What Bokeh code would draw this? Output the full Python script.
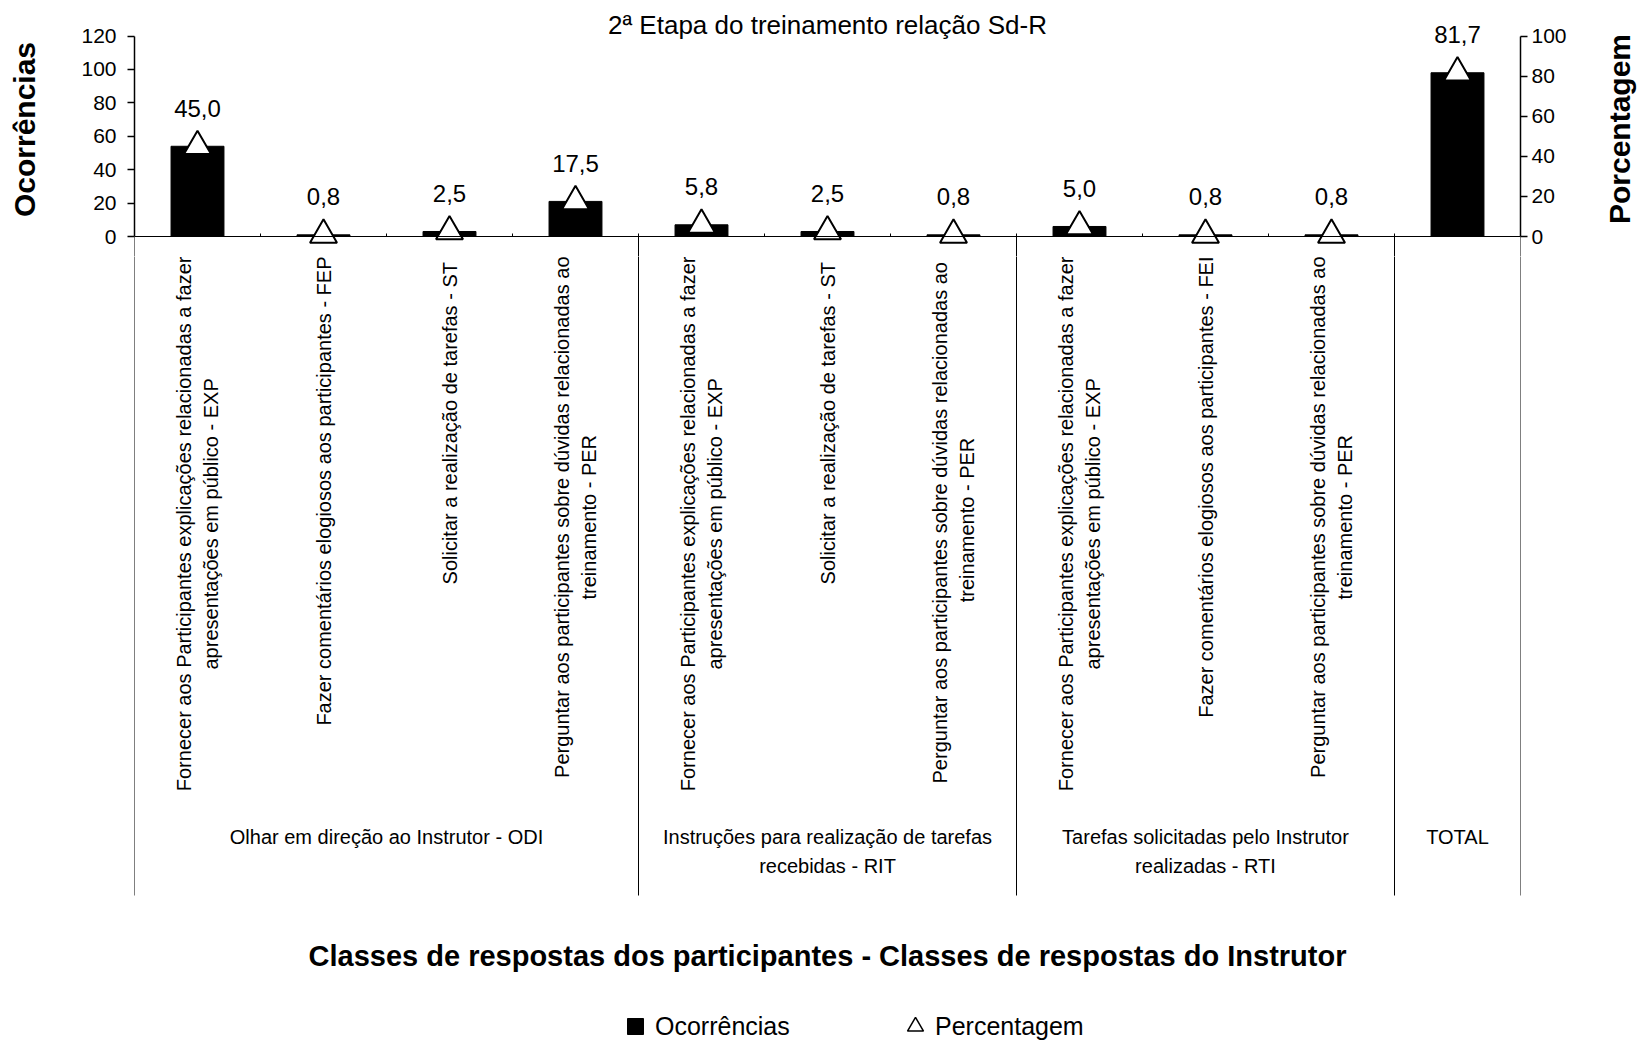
import math
from bokeh.plotting import figure
from bokeh.layouts import column, row
from bokeh.models import (ColumnDataSource, LinearAxis, Range1d, FixedTicker,
                          Legend, LegendItem, Span)
from bokeh.core.properties import value
from bokeh.embed import file_html
from bokeh.resources import INLINE

# ---------------- data ----------------
title_text = "2ª Etapa do treinamento relação Sd-R"
x_title = "Classes de respostas dos participantes - Classes de respostas do Instrutor"
left_title = "Ocorrências"
right_title = "Porcentagem"
legend_bar = "Ocorrências"
legend_pct = "Percentagem"

categories = [
    "Fornecer aos Participantes explicações relacionadas a fazer\napresentações em público - EXP",
    "Fazer comentários elogiosos aos participantes - FEP",
    "Solicitar a realização de  tarefas - ST",
    "Perguntar aos participantes sobre dúvidas relacionadas ao\ntreinamento - PER",
    "Fornecer aos Participantes explicações relacionadas a fazer\napresentações em público - EXP",
    "Solicitar a realização de  tarefas - ST",
    "Perguntar aos participantes sobre dúvidas  relacionadas ao\ntreinamento - PER",
    "Fornecer aos Participantes explicações relacionadas a fazer\napresentações em público - EXP",
    "Fazer comentários elogiosos aos participantes - FEI",
    "Perguntar aos participantes sobre dúvidas relacionadas ao\ntreinamento - PER",
    "",
]
groups = [
    "Olhar em direção ao Instrutor - ODI",
    "Instruções para realização de tarefas\nrecebidas - RIT",
    "Tarefas solicitadas pelo Instrutor\nrealizadas - RTI",
    "TOTAL",
]
group_sizes = [4, 3, 3, 1]
ocorrencias = [54, 1, 3, 21, 7, 3, 1, 6, 1, 1, 98]
percentagem = [45.0, 0.8, 2.5, 17.5, 5.8, 2.5, 0.8, 5.0, 0.8, 0.8, 81.7]
occ_ticks = [0, 20, 40, 60, 80, 100, 120]
pct_ticks = [0, 20, 40, 60, 80, 100]

# ---------------- geometry (page pixels) ----------------
W, H = 1638, 1048
RW = 40                     # width of the strip holding the right-hand title
WL = W - RW
FL, FR = 134, 1520          # frame left / right
SPLIT = 256                 # boundary between the two stacked panels
ZERO = 236.0                # page y of value 0
TOP = 35.5                  # page y of value 120
OCC_MAX, PCT_MAX = 120, 100
PPU = (ZERO - TOP) / OCC_MAX
ratio = OCC_MAX / PCT_MAX
FONT = "Liberation Sans"

n = len(categories)
xc = [i + 0.5 for i in range(n)]
bounds = [0]
for s in group_sizes:
    bounds.append(bounds[-1] + s)


def ypx(py):
    """page y -> data y on the occurrences scale"""
    return (ZERO - py) / PPU


x_range = Range1d(0, n)

# ================= top panel: bars, triangles, axes =================
top = figure(width=WL, height=SPLIT, title=None, x_range=x_range,
             y_range=Range1d(ypx(SPLIT), ypx(2)),
             x_axis_location=None, y_axis_location=None,
             min_border_left=FL, min_border_right=WL - FR,
             min_border_top=2, min_border_bottom=0,
             toolbar_location=None, output_backend="svg")
top.extra_y_ranges = {"pct": Range1d(ypx(SPLIT) / ratio, ypx(2) / ratio)}

la = LinearAxis(bounds=(0, OCC_MAX), ticker=FixedTicker(ticks=occ_ticks),
                axis_label=left_title)
ra = LinearAxis(y_range_name="pct", bounds=(0, PCT_MAX),
                ticker=FixedTicker(ticks=pct_ticks))
for ax in (la, ra):
    ax.axis_line_color = "black"
    ax.axis_line_width = 1.5
    ax.major_tick_line_color = "black"
    ax.major_tick_line_width = 1.5
    ax.major_tick_out = 7
    ax.major_tick_in = 0
    ax.minor_tick_line_color = None
    ax.major_label_text_font = FONT
    ax.major_label_text_font_size = "21px"
    ax.major_label_text_color = "black"
la.axis_label_text_font = FONT
la.axis_label_text_font_style = "bold"
la.axis_label_text_font_size = "30px"
la.axis_label_text_color = "black"
la.major_label_standoff = 11
la.axis_label_standoff = 37
ra.major_label_standoff = 4
top.add_layout(la, "left")
top.add_layout(ra, "right")

# category axis line and small category ticks
top.add_layout(Span(location=0, dimension="width", line_color="black", line_width=1))
inner = list(range(1, n))
top.segment(x0=inner, y0=[0] * len(inner), x1=inner, y1=[3 / PPU] * len(inner),
            line_color="black", line_width=1)
# upper part of group separators
top.segment(x0=bounds, y0=[0] * len(bounds), x1=bounds,
            y1=[ypx(SPLIT + 2)] * len(bounds), line_color="black", line_width=1)

src = ColumnDataSource(dict(x=xc, occ=ocorrencias, pct=percentagem,
                            lab=[f"{v:.1f}".replace(".", ",") for v in percentagem],
                            cat=categories))
top.vbar(x="x", top="occ", width=0.42, bottom=0, source=src,
         fill_color="black", line_color="black")
top.scatter(x="x", y="pct", y_range_name="pct", source=src, marker="triangle",
            size=27, fill_color="white", line_color="black", line_width=2)

lab_src = ColumnDataSource(dict(x=xc, y=[v + 38 / (PPU * ratio) for v in percentagem],
                                lab=src.data["lab"]))
top.text(x="x", y="y", text="lab", y_range_name="pct", source=lab_src,
         text_font=value(FONT), text_font_size="24px", text_color="black",
         text_align="center", text_baseline="middle")

top.text(x=[n / 2], y=[ypx(24)], text=[title_text], text_align="center",
         text_baseline="middle", text_font=value(FONT), text_font_size="26px",
         text_color="black")

# ================= right strip: right-hand axis title =================
side = figure(width=RW, height=SPLIT, title=None,
              x_range=Range1d(0, RW), y_range=Range1d(ypx(SPLIT), ypx(0)),
              x_axis_location=None, y_axis_location=None,
              min_border_left=0, min_border_right=0,
              min_border_top=0, min_border_bottom=0,
              toolbar_location=None, output_backend="svg")
side.text(x=[1619 - WL], y=[ypx(128.5)], text=[right_title], angle=math.pi / 2,
          text_align="center", text_baseline="middle", text_font=value(FONT),
          text_font_size="30px", text_font_style="bold", text_color="black")

# ================= bottom panel: category texts, groups, legend =================
bot = figure(width=WL, height=H - SPLIT, title=None, x_range=x_range,
             y_range=Range1d(ypx(H), ypx(SPLIT)),
             x_axis_location=None, y_axis_location=None,
             min_border_left=FL, min_border_right=WL - FR,
             min_border_top=0, min_border_bottom=0,
             toolbar_location=None, output_backend="svg")

bot.segment(x0=bounds, y0=[ypx(SPLIT - 2)] * len(bounds), x1=bounds,
            y1=[ypx(895)] * len(bounds), line_color="black", line_width=1)

bot.text(x="x", y=ypx(ZERO + 20), text="cat", source=src, angle=math.pi / 2,
         anchor="center_right", text_align="center",
         text_font=value(FONT), text_font_size="20px", text_color="black",
         text_line_height=1.2)

gx = [(bounds[i] + bounds[i + 1]) / 2 for i in range(len(groups))]
bot.text(x=gx, y=[ypx(825)] * len(groups), text=groups,
         anchor="top_center", text_align="center",
         text_font=value(FONT), text_font_size="20px", text_color="black",
         text_line_height=1.35)

bot.text(x=[n / 2], y=[ypx(955)], text=[x_title], text_align="center",
         text_baseline="middle", text_font=value(FONT), text_font_size="29px",
         text_font_style="bold", text_color="black")

# legend keys (zero-size markers: only their legend swatches are visible)
key_bar = bot.scatter(x="x", y="occ", source=src, marker="square", size=0,
                      fill_color="black", line_color="black", line_width=1)
key_tri = bot.scatter(x="x", y="pct", source=src, marker="triangle", size=0,
                      fill_color="white", line_color="black", line_width=1.5)

for items, loc in (
        ([LegendItem(label=legend_bar, renderers=[key_bar])], (481, 2)),
        ([LegendItem(label=legend_pct, renderers=[key_tri])], (761, 2))):
    lg = Legend(items=items, location=loc, orientation="horizontal",
                glyph_width=40, glyph_height=40, label_standoff=0,
                padding=0, margin=0, border_line_color=None,
                background_fill_alpha=0, label_text_font=FONT,
                label_text_font_size="25px", label_text_color="black")
    bot.add_layout(lg)

for f in (top, bot, side):
    f.outline_line_color = None
    f.background_fill_color = "white"
    f.border_fill_color = "white"
    f.xgrid.visible = False
    f.ygrid.visible = False

layout = row(column(top, bot, spacing=0), side, spacing=0)
open("out.html", "w").write(file_html(layout, INLINE))
